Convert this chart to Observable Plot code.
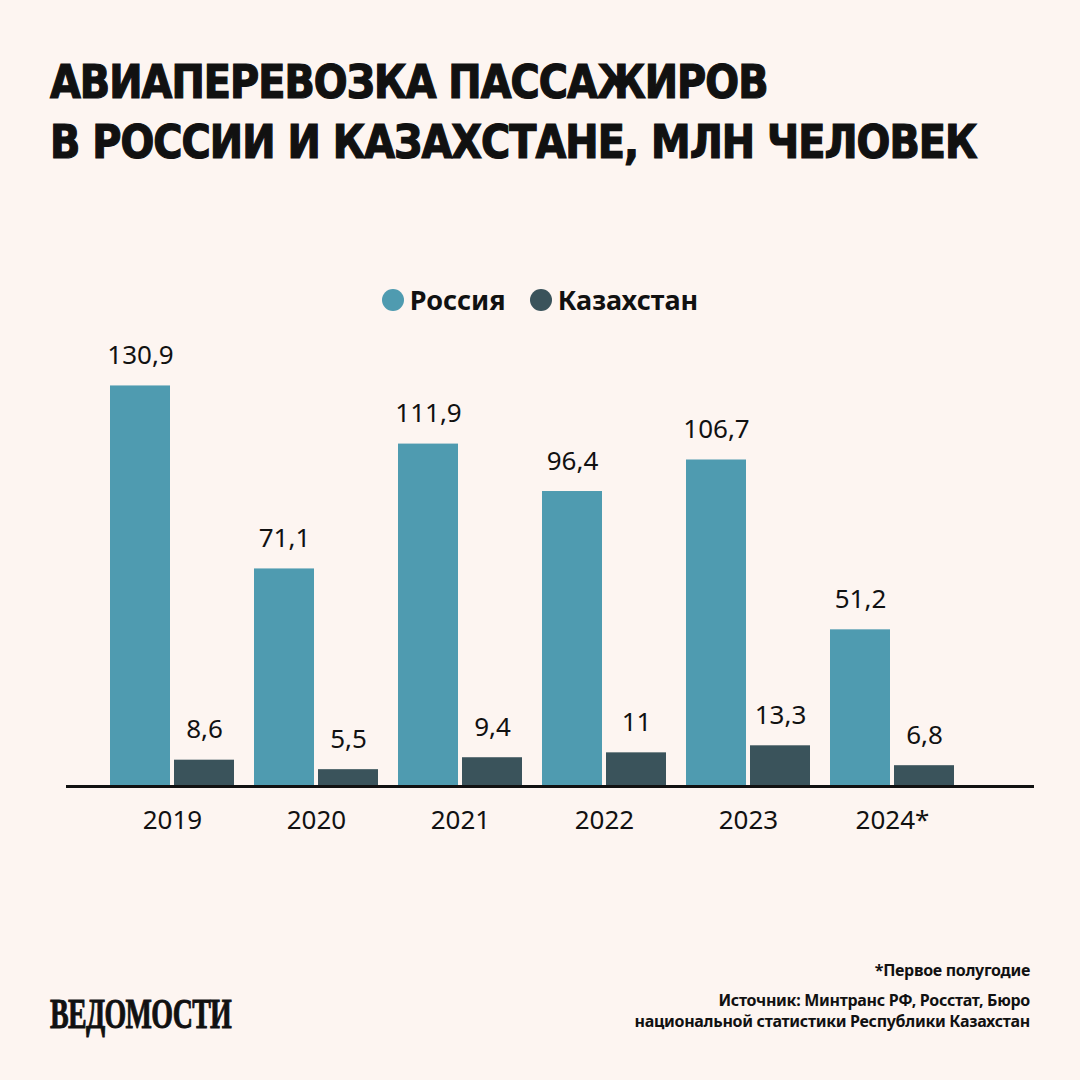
<!DOCTYPE html>
<html>
<head>
<meta charset="utf-8">
<script src="https://cdn.jsdelivr.net/npm/d3@7"></script>
<script src="https://cdn.jsdelivr.net/npm/@observablehq/plot@0.6"></script>
<style>
  html, body { margin: 0; padding: 0; background: #fdf5f1; }
  #page { position: relative; width: 1080px; height: 1080px; background: #fdf5f1; overflow: hidden; color: #111; }
  #title { position: absolute; left: 50px; top: 52px; font-family: "DejaVu Sans Condensed", "DejaVu Sans"; font-weight: bold; font-size: 46px; line-height: 60px; letter-spacing: -1px; white-space: nowrap; transform: scaleX(0.962); transform-origin: 0 0; -webkit-text-stroke: 1.2px #111; }
  #legend { position: absolute; top: 281px; left: 0; width: 1080px; display: flex; justify-content: center; gap: 24px; font-family: "Noto Sans"; font-weight: bold; font-size: 27px; }
  .item { display: flex; align-items: center; gap: 6px; }
  .dot { width: 22px; height: 22px; border-radius: 50%; display: inline-block; }
  #chart { position: absolute; left: 0; top: 330px; }
  #note { position: absolute; right: 50px; top: 959px; font-family: "Noto Sans"; font-weight: bold; font-size: 16px; letter-spacing: -0.3px; text-align: right; }
  #source { position: absolute; right: 50px; top: 990px; font-family: "Noto Sans"; font-weight: bold; font-size: 16px; line-height: 21px; letter-spacing: -0.3px; text-align: right; }
  #logo { position: absolute; left: 50px; top: 990px; font-family: "Liberation Serif"; font-weight: bold; font-size: 42px; transform: scaleX(0.665); transform-origin: 0 0; letter-spacing: -1px; -webkit-text-stroke: 1px #111; }
</style>
</head>
<body>
<div id="page">
  <div id="title">АВИАПЕРЕВОЗКА ПАССАЖИРОВ<br>В РОССИИ И КАЗАХСТАНЕ, МЛН ЧЕЛОВЕК</div>
  <div id="legend"></div>
  <div id="chart"></div>
  <div id="note">*Первое полугодие</div>
  <div id="source">Источник: Минтранс РФ, Росстат, Бюро<br>национальной статистики Республики Казахстан</div>
  <div id="logo">ВЕДОМОСТИ</div>
</div>
<script>
const years = ["2019", "2020", "2021", "2022", "2023", "2024*"];
const russia = [130.9, 71.1, 111.9, 96.4, 106.7, 51.2];
const kazakhstan = [8.6, 5.5, 9.4, 11, 13.3, 6.8];
const seriesNames = ["Россия", "Казахстан"];
const seriesColors = ["#4f9bb0", "#3a535b"];

const ru = years.map((year, i) => ({year, value: russia[i]}));
const kz = years.map((year, i) => ({year, value: kazakhstan[i]}));
const fmt = d => String(d.value).replace(".", ",");

// legend
const legend = document.getElementById("legend");
seriesNames.forEach((name, i) => {
  const item = document.createElement("div");
  item.className = "item";
  const dot = document.createElement("span");
  dot.className = "dot";
  dot.style.background = seriesColors[i];
  item.appendChild(dot);
  item.appendChild(document.createTextNode(name));
  legend.appendChild(item);
});

const baseline = 456;
const pxPerUnit = 3.06;
const yMax = 140;

const chart = Plot.plot({
  width: 1080,
  height: 520,
  marginLeft: 66,
  marginRight: 46,
  marginTop: baseline - yMax * pxPerUnit,
  marginBottom: 520 - baseline,
  style: {background: "transparent", fontFamily: "Noto Sans", color: "#111"},
  x: {type: "band", domain: years, range: [100, 964], padding: 0},
  y: {domain: [0, yMax], axis: null},
  marks: [
    Plot.barY(ru, {x: "year", y: "value", fill: seriesColors[0], insetLeft: 10, insetRight: 74}),
    Plot.barY(kz, {x: "year", y: "value", fill: seriesColors[1], insetLeft: 74, insetRight: 10}),
    Plot.text(ru, {x: "year", y: "value", text: fmt, dx: -32, dy: -22, lineAnchor: "bottom", fontSize: 26, fill: "#111"}),
    Plot.text(kz, {x: "year", y: "value", text: fmt, dx: 32, dy: -22, lineAnchor: "bottom", fontSize: 26, fill: "#111"}),
    Plot.ruleY([0], {stroke: "#111", strokeWidth: 3}),
    Plot.axisX({tickSize: 0, tickPadding: 24, fontSize: 26, label: null, fill: "#111"})
  ]
});
document.getElementById("chart").appendChild(chart);
</script>
</body>
</html>
